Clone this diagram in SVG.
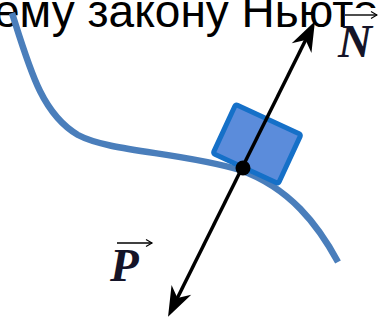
<svg xmlns="http://www.w3.org/2000/svg" width="378" height="321" viewBox="0 0 378 321">
<defs>
<style>
.title{font-family:"Liberation Sans",Arial,sans-serif;font-size:46px;fill:#000}
.vec{font-family:"Liberation Serif","Times New Roman",serif;font-size:47px;font-weight:bold;font-style:italic;fill:#141428}
.thin{stroke:#000;stroke-width:1.4;fill:none}
</style>
<marker id="stealth" markerUnits="userSpaceOnUse" markerWidth="50" markerHeight="50" viewBox="-25 -25 50 50" refX="0" refY="0" orient="auto-start-reverse" overflow="visible">
<path d="M12,0 L-18,-11 L-9,0 L-18,11 Z" fill="#000"/>
</marker>
<marker id="small" markerUnits="userSpaceOnUse" markerWidth="12" markerHeight="12" viewBox="-8 -6 12 12" refX="0" refY="0" orient="auto" overflow="visible">
<path d="M-6,-3.5 L0,0 L-6,3.5" fill="none" stroke="#000" stroke-width="1.2"/>
</marker>
</defs>
<rect width="378" height="321" fill="#fff"/>
<text class="title" x="-6" y="27">ему закону Ньютона</text>
<g id="curve">
<path d="M12,13 C30,70 42,114 78,135 C110,152 180,152 240,170 C290,188 318,225 338,262" fill="none" stroke="#4A7EBB" stroke-width="6.5"/>
</g>
<g id="block">
<rect x="-36" y="-27" width="72" height="54" rx="2" transform="translate(257 144) rotate(24.8)" fill="#5B8CDB" stroke="#1570C8" stroke-width="5"/>
</g>
<g id="connectors">
<line x1="173.4" y1="306" x2="309.6" y2="32" stroke="#000" stroke-width="3.5" marker-start="url(#stealth)" marker-end="url(#stealth)"/>
<circle cx="243" cy="168" r="7.5" fill="#000"/>
</g>
<g id="label-N">
<rect x="345" y="8" width="33" height="54" fill="#fff"/>
<line class="thin" x1="345" y1="15" x2="377" y2="15" marker-end="url(#small)"/>
<text class="vec" x="338" y="57">N</text>
</g>
<g id="label-P">
<line class="thin" x1="117" y1="243" x2="152" y2="243" marker-end="url(#small)"/>
<text class="vec" x="110" y="281">P</text>
</g>
</svg>
